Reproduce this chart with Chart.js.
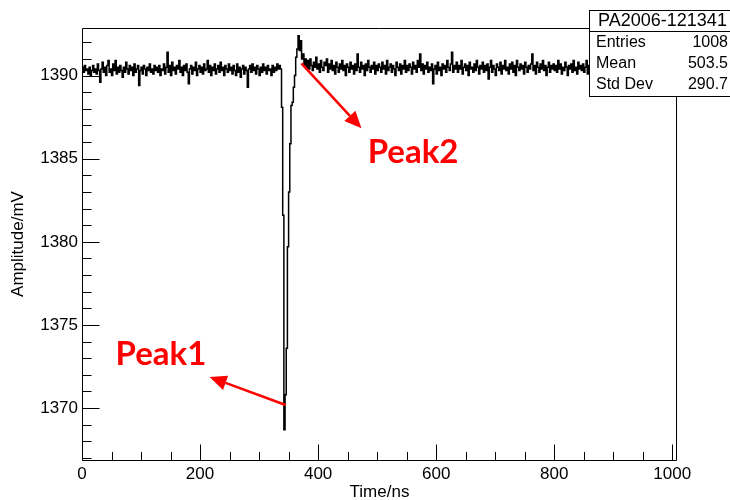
<!DOCTYPE html>
<html>
<head>
<meta charset="utf-8">
<script src="https://cdn.jsdelivr.net/npm/chart.js@4.4.1/dist/chart.umd.min.js"></script>
<style>
  html, body { margin: 0; padding: 0; background: #fff; }
  canvas { display: block; }
</style>
</head>
<body>
<canvas id="wave" width="730" height="500"></canvas>
<script>
// Waveform PA2006-121341: amplitude (mV) per 2 ns bin over 0–1008 ns
const binWidth = 2;

// baseline before the pulse, 0–336 ns
const baselineBefore = [
  1390.5, 1390.2, 1390.6, 1390.3, 1390.4, 1390.1, 1390.5, 1390.0, 1390.3, 1390.6, 1390.2, 1390.4, 1390.1, 1390.7, 1390.3, 1389.6, 1390.4, 1390.8, 1390.2, 1390.5, 1390.0,
  1390.6, 1390.9, 1390.2, 1390.4, 1390.0, 1390.7, 1390.3, 1390.9, 1390.1, 1390.5, 1390.2, 1390.6, 1390.3, 1389.9, 1390.5, 1390.2, 1390.8, 1390.4, 1390.1, 1390.6, 1390.3,
  1390.5, 1390.0, 1390.7, 1390.2, 1390.4, 1390.6, 1389.4, 1390.3, 1390.5, 1390.1, 1390.6, 1390.4, 1390.0, 1390.5, 1390.3, 1390.7, 1390.2, 1390.4, 1390.1, 1390.6, 1390.3,
  1390.5, 1390.2, 1390.6, 1390.0, 1390.4, 1390.3, 1390.7, 1390.1, 1390.5, 1391.4, 1390.2, 1390.6, 1390.0, 1390.8, 1390.3, 1390.5, 1390.1, 1390.6, 1390.4, 1390.9, 1390.2,
  1390.5, 1390.0, 1390.6, 1390.3, 1390.7, 1390.2, 1389.5, 1390.4, 1390.6, 1390.1, 1390.5, 1390.3, 1390.8, 1390.0, 1390.4, 1390.6, 1390.2, 1390.5, 1390.1, 1390.7, 1390.3,
  1390.4, 1390.9, 1390.2, 1390.6, 1390.0, 1390.5, 1390.3, 1390.7, 1390.1, 1390.4, 1390.6, 1390.2, 1390.8, 1390.3, 1390.5, 1390.0, 1390.6, 1390.4, 1390.2, 1390.7, 1390.3,
  1390.5, 1390.1, 1390.6, 1390.3, 1390.0, 1390.7, 1390.2, 1390.5, 1389.9, 1390.4, 1390.6, 1390.1, 1390.5, 1390.3, 1389.3, 1390.4, 1390.6, 1390.2, 1390.7, 1390.3, 1390.5,
  1390.1, 1390.6, 1390.4, 1390.0, 1390.5, 1390.2, 1390.7, 1390.3, 1390.5, 1390.1, 1390.6, 1390.3, 1390.4, 1390.0, 1390.6, 1390.2, 1390.5, 1390.3, 1390.7, 1390.4, 1390.6
];

// negative pulse and overshoot, 336–382 ns
const pulse = [
  1390.4, 1388.1, 1381.6, 1368.7, 1370.8, 1373.6, 1379.7, 1383.0, 1385.9, 1388.2, 1388.4, 1389.3,
  1390.0, 1391.1, 1391.6, 1392.4, 1391.5, 1392.1, 1391.0, 1391.3, 1390.6, 1391.0, 1390.4
];

// baseline after the pulse, 382–1008 ns
const baselineAfter = [
  1390.9, 1390.4, 1391.0, 1390.6, 1390.3, 1390.8, 1390.5, 1391.1, 1390.4, 1390.7, 1390.2, 1390.9, 1390.5, 1390.3, 1390.8, 1390.6, 1391.0, 1390.2, 1390.7, 1390.4, 1390.9,
  1390.3, 1390.6, 1390.1, 1390.8, 1390.5, 1390.2, 1390.7, 1390.4, 1390.9, 1390.3, 1390.6, 1390.0, 1390.7, 1390.5, 1390.2, 1390.8, 1390.4, 1390.6, 1390.1, 1390.7, 1390.3,
  1391.3, 1390.5, 1390.2, 1390.8, 1390.4, 1390.6, 1390.0, 1390.7, 1390.3, 1390.9, 1390.5, 1390.2, 1390.6, 1390.4, 1390.8, 1390.1, 1390.6, 1390.3, 1390.7, 1390.5, 1390.2,
  1390.8, 1390.4, 1390.6, 1390.1, 1390.9, 1390.3, 1390.5, 1390.7, 1390.2, 1390.6, 1390.4, 1390.0, 1390.8, 1390.5, 1390.3, 1390.7, 1390.1, 1390.6, 1390.4, 1390.9, 1390.2,
  1390.6, 1390.3, 1390.7, 1390.5, 1390.1, 1390.8, 1390.4, 1390.6, 1390.2, 1390.9, 1390.5, 1391.3, 1390.3, 1390.7, 1390.1, 1390.6, 1390.4, 1390.8, 1390.2, 1390.5, 1390.3,
  1390.7, 1389.5, 1390.4, 1390.6, 1390.1, 1390.8, 1390.3, 1390.5, 1390.0, 1390.7, 1390.4, 1390.6, 1390.2, 1390.9, 1390.5, 1390.3, 1390.7, 1391.4, 1390.2, 1390.6, 1390.4,
  1390.8, 1390.2, 1390.6, 1390.4, 1390.9, 1390.1, 1390.5, 1390.7, 1390.3, 1390.6, 1390.0, 1390.8, 1390.4, 1390.5, 1390.2, 1390.7, 1390.3, 1390.9, 1390.5, 1390.1, 1390.6,
  1390.4, 1390.8, 1390.2, 1390.6, 1390.3, 1390.7, 1389.8, 1390.5, 1390.9, 1390.2, 1390.6, 1390.4, 1390.0, 1390.7, 1390.5, 1390.3, 1390.8, 1390.1, 1390.6, 1390.4, 1390.9,
  1390.3, 1390.5, 1390.1, 1390.7, 1390.4, 1390.8, 1390.2, 1390.6, 1390.0, 1390.9, 1390.5, 1390.3, 1390.7, 1390.4, 1390.6, 1390.1, 1390.8, 1390.5, 1390.2, 1390.6, 1390.4,
  1390.7, 1391.3, 1390.3, 1390.6, 1390.1, 1390.8, 1390.5, 1390.2, 1390.7, 1390.4, 1390.9, 1390.3, 1390.6, 1390.0, 1390.5, 1390.8, 1390.2, 1390.6, 1390.4, 1390.7, 1390.3,
  1390.6, 1390.2, 1390.9, 1390.4, 1390.7, 1390.1, 1390.5, 1390.3, 1390.8, 1390.5, 1390.0, 1390.6, 1390.4, 1390.7, 1390.2, 1390.9, 1390.3, 1390.5, 1390.1, 1390.8, 1390.4,
  1390.6, 1390.3, 1390.7, 1390.2, 1390.5, 1390.9, 1390.1, 1390.6, 1390.4, 1390.8, 1390.3, 1390.5, 1390.0, 1390.7, 1390.4, 1390.6, 1390.2, 1390.8, 1390.5, 1390.3, 1390.7,
  1390.4, 1390.9, 1390.2, 1390.6, 1390.1, 1390.7, 1390.5, 1390.3, 1390.8, 1390.0, 1390.6, 1390.4, 1390.7, 1390.2, 1390.9, 1390.5, 1390.3, 1390.6, 1390.1, 1390.8, 1390.4,
  1390.6, 1390.2, 1390.7, 1390.4, 1390.9, 1390.3, 1390.5, 1390.1, 1390.8, 1390.6, 1390.3, 1390.7, 1390.0, 1390.5, 1390.4, 1390.8, 1390.2, 1390.6, 1390.3, 1390.9, 1390.5,
  1390.2, 1390.7, 1390.4, 1390.6, 1390.1, 1390.8, 1390.5, 1390.3, 1390.7, 1390.4, 1390.9, 1390.2, 1390.6, 1390.5, 1390.3, 1390.7, 1390.4, 1390.6, 1390.5
];

// axes
const xRange = [0, 1008];
const yRange = [1366.88, 1392.86];
const xTickValues = [0, 200, 400, 600, 800, 1000];
const yTickValues = [1370, 1375, 1380, 1385, 1390];
const xMinorStep = 50;
const yMinorStep = 1;
const xTitle = 'Time/ns';
const yTitle = 'Amplitude/mV';

// statistics box
const statsTitle = 'PA2006-121341';
const statsNames = ['Entries', 'Mean', 'Std Dev'];
const statsValues = ['1008', '503.5', '290.7'];

// peak annotations, in data coordinates (ns, mV)
const peakNames = ['Peak1', 'Peak2'];
const peakTextAt = [[56.8, 1372.6], [484, 1384.74]];
const peakArrowFrom = [[345, 1370.19], [371.7, 1390.73]];
const peakArrowTo = [[216.2, 1371.87], [473.4, 1386.83]];

const amplitude = baselineBefore.concat(pulse, baselineAfter);
const points = amplitude.map((v, i) => ({ x: i * binWidth, y: v }));
// closing edge of the last bin, dropping out of the frame
points.push({ x: amplitude.length * binWidth, y: yRange[0] - 5 });

const axisFont = '"Liberation Sans", Arial, Helvetica, sans-serif';
Chart.defaults.font.family = axisFont;
Chart.defaults.color = '#000';

const whiteBackground = {
  id: 'whiteBackground',
  beforeDraw(chart) {
    const ctx = chart.ctx;
    ctx.save();
    ctx.fillStyle = '#fff';
    ctx.fillRect(0, 0, chart.width, chart.height);
    ctx.restore();
  }
};

// ROOT-style frame with inward major/minor tick marks
const frameTicks = {
  id: 'frameTicks',
  afterDatasetsDraw(chart) {
    const { ctx, chartArea: a, scales: { x, y } } = chart;
    const crisp = v => Math.round(v) + 0.5;
    ctx.save();
    ctx.strokeStyle = '#000';
    ctx.lineWidth = 1;
    ctx.beginPath();
    const L = crisp(a.left), R = crisp(a.right - 1), T = crisp(a.top), B = crisp(a.bottom);
    ctx.moveTo(L, T); ctx.lineTo(R, T); ctx.lineTo(R, B); ctx.lineTo(L, B); ctx.closePath();
    for (let v = xRange[0]; v <= xRange[1]; v += xMinorStep) {
      const px = crisp(x.getPixelForValue(v));
      const len = xTickValues.includes(v) ? 16 : 8.5;
      ctx.moveTo(px, B); ctx.lineTo(px, B - len);
    }
    for (let v = Math.ceil(yRange[0]); v <= yRange[1]; v += yMinorStep) {
      const py = crisp(y.getPixelForValue(v));
      const len = yTickValues.includes(v) ? 17 : 9;
      ctx.moveTo(L, py); ctx.lineTo(L + len, py);
    }
    ctx.stroke();
    ctx.restore();
  }
};

function arrow(ctx, x1, y1, x2, y2) {
  const ang = Math.atan2(y2 - y1, x2 - x1);
  const head = 17, half = 7.5;
  const bx = x2 - head * Math.cos(ang), by = y2 - head * Math.sin(ang);
  ctx.beginPath();
  ctx.moveTo(x1, y1); ctx.lineTo(bx, by);
  ctx.stroke();
  ctx.beginPath();
  ctx.moveTo(x2, y2);
  ctx.lineTo(bx + half * Math.sin(ang), by - half * Math.cos(ang));
  ctx.lineTo(bx - half * Math.sin(ang), by + half * Math.cos(ang));
  ctx.closePath();
  ctx.fill();
}

const overlays = {
  id: 'overlays',
  afterDraw(chart) {
    const { ctx, scales: { x, y } } = chart;
    ctx.save();
    // statistics box
    const bx = 589.5, by = 10.5, bw = 160, bh = 86, sep = 31.5;
    ctx.fillStyle = '#fff';
    ctx.fillRect(bx, by, bw, bh);
    ctx.strokeStyle = '#000';
    ctx.lineWidth = 1;
    ctx.strokeRect(bx, by, bw, bh);
    ctx.beginPath(); ctx.moveTo(bx, sep); ctx.lineTo(bx + bw, sep); ctx.stroke();
    ctx.fillStyle = '#000';
    ctx.textBaseline = 'middle';
    ctx.font = '18px ' + axisFont;
    ctx.textAlign = 'center';
    ctx.fillText(statsTitle, 662.5, 21.5);
    ctx.font = '16px ' + axisFont;
    const rowY = [43, 64, 85];
    statsNames.forEach((n, i) => {
      ctx.textAlign = 'left';
      ctx.fillText(n, 596, rowY[i]);
      ctx.textAlign = 'right';
      ctx.fillText(statsValues[i], 728, rowY[i]);
    });

    // peak annotations
    ctx.strokeStyle = '#ff0000';
    ctx.fillStyle = '#ff0000';
    ctx.lineWidth = 2.5;
    peakNames.forEach((name, i) => {
      arrow(ctx,
        x.getPixelForValue(peakArrowFrom[i][0]), y.getPixelForValue(peakArrowFrom[i][1]),
        x.getPixelForValue(peakArrowTo[i][0]), y.getPixelForValue(peakArrowTo[i][1]));
      ctx.font = 'bold 33px Lato, "Noto Sans", sans-serif';
      ctx.textAlign = 'left';
      ctx.textBaseline = 'alphabetic';
      ctx.fillText(name, x.getPixelForValue(peakTextAt[i][0]), y.getPixelForValue(peakTextAt[i][1]));
    });
    ctx.restore();
  }
};

new Chart(document.getElementById('wave'), {
  type: 'line',
  data: {
    datasets: [{
      data: points,
      borderColor: '#000',
      borderWidth: 1.5,
      pointRadius: 0,
      stepped: true,
      fill: false
    }]
  },
  options: {
    responsive: false,
    animation: false,
    devicePixelRatio: 1,
    events: [],
    layout: { padding: { top: 28, right: 53, left: 0, bottom: 0 } },
    plugins: { legend: { display: false }, tooltip: { enabled: false } },
    scales: {
      x: {
        type: 'linear',
        min: xRange[0],
        max: xRange[1],
        afterBuildTicks: s => { s.ticks = xTickValues.map(v => ({ value: v })); },
        afterFit: s => { s.height = 40; },
        grid: { display: false, drawTicks: false },
        border: { display: false },
        ticks: { padding: 4, maxRotation: 0, autoSkip: false, font: { size: 17 }, color: '#000', callback: v => String(v) },
        title: { display: true, text: xTitle, font: { size: 17 }, color: '#000', padding: { top: 0, bottom: -3 } }
      },
      y: {
        type: 'linear',
        min: yRange[0],
        max: yRange[1],
        afterBuildTicks: s => { s.ticks = yTickValues.map(v => ({ value: v })); },
        afterFit: s => { s.width = 82; },
        grid: { display: false, drawTicks: false },
        border: { display: false },
        ticks: { padding: 4, font: { size: 17 }, color: '#000', callback: v => String(v) },
        title: { display: true, text: yTitle, font: { size: 17 }, color: '#000', padding: { top: 8, bottom: 0 } }
      }
    }
  },
  plugins: [whiteBackground, frameTicks, overlays]
});
</script>
</body>
</html>
